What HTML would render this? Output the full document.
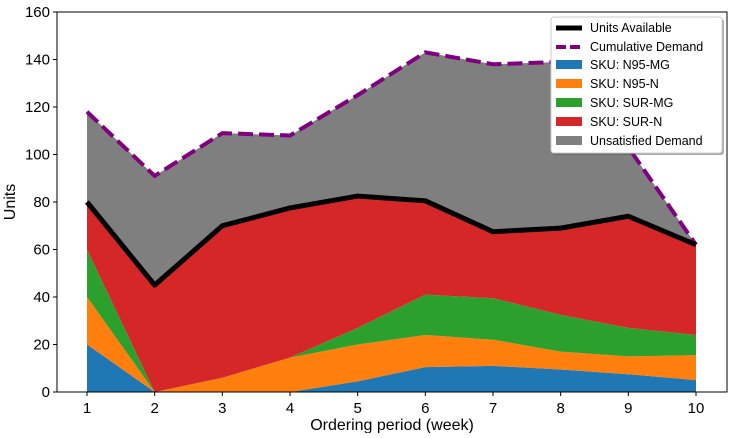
<!DOCTYPE html>
<html><head><meta charset="utf-8"><style>
body{margin:0;background:#fff;font-family:"Liberation Sans","DejaVu Sans",sans-serif}
</style></head><body>
<svg id="chart" width="741" height="433" xmlns="http://www.w3.org/2000/svg"></svg>
<script>
const weeks=[1,2,3,4,5,6,7,8,9,10];
const n95mg=[20,0,0,0,4.5,10.5,11,9.5,7.5,5];
const n95n=[20,0,6,14.5,15.5,13.5,11,7.5,7.5,10.5];
const surmg=[20,0,0,0,7,17,17.5,15.5,12,8.5];
const unitsAvailable=[80,45,70,77.5,82.5,80.5,67.5,69,74,62];
const cumDemand=[118,91,109,108,125,143,138,139,103,62];
const yTicks=[0,20,40,60,80,100,120,140,160];
const NS="http://www.w3.org/2000/svg";
const svg=document.getElementById('chart');
const L=57,R=727,T=12,B=392;
const x=w=>87+(w-1)*(696-87)/9;
const y=v=>B-v*(B-T)/160;
function el(tag,attrs,parent){const e=document.createElementNS(NS,tag);for(const k in attrs)e.setAttribute(k,attrs[k]);(parent||svg).appendChild(e);return e;}
const surn=unitsAvailable.map((u,i)=>u-n95mg[i]-n95n[i]-surmg[i]);
const layers=[[n95mg,'#1f77b4','area-n95-mg'],[n95n,'#ff7f0e','area-n95-n'],[surmg,'#2ca02c','area-sur-mg'],[surn,'#d62728','area-sur-n'],[cumDemand.map((d,i)=>d-unitsAvailable[i]),'#7f7f7f','area-unsatisfied-demand']];
let base=weeks.map(()=>0);
layers.forEach(([vals,col,name])=>{
  const top=base.map((b,i)=>b+vals[i]);
  let d=weeks.map((w,i)=>(i?'L':'M')+x(w)+','+y(top[i])).join('');
  for(let i=weeks.length-1;i>=0;i--)d+='L'+x(weeks[i])+','+y(base[i]);
  const p=el('path',{d:d+'Z',fill:col});
  
  
  base=top;
});
function line(vals,attrs,name){const p=el('polyline',Object.assign({points:weeks.map((w,i)=>x(w)+','+y(vals[i])).join(' '),fill:'none'},attrs));

}
line(cumDemand,{stroke:'#800080','stroke-width':4,'stroke-dasharray':'15,6'},'cumulative-demand-line');
line(unitsAvailable,{stroke:'#000','stroke-width':5,'stroke-linejoin':'round'},'units-available-line');
const frame=el('rect',{x:L,y:T,width:R-L,height:B-T,fill:'none',stroke:'#000','stroke-width':1});


yTicks.forEach(v=>{el('line',{x1:L-4,x2:L,y1:y(v),y2:y(v),stroke:'#000'});
const t=el('text',{x:L-7,y:y(v)+5,'text-anchor':'end','font-size':15});t.textContent=v;

});
weeks.forEach(w=>{el('line',{x1:x(w),x2:x(w),y1:B,y2:B+4,stroke:'#000'});
const t=el('text',{x:x(w),y:B+21,'text-anchor':'middle','font-size':15});t.textContent=w;

});
</script>
<svg style="position:absolute;left:0;top:0" width="741" height="433" xmlns="http://www.w3.org/2000/svg">
<text x="392" y="430" text-anchor="middle" font-size="16" font-family="Liberation Sans">Ordering period (week)</text>
<text transform="translate(15,202) rotate(-90)" text-anchor="middle" font-size="16" font-family="Liberation Sans">Units</text>
<g font-size="12.5" font-family="Liberation Sans">
<rect x="553" y="19" width="171" height="136" rx="3" fill="#555" fill-opacity="0.5"/>
<rect x="551" y="17" width="171" height="136" rx="3" fill="#fff" stroke="#ccc"/>
<line x1="556" x2="582" y1="28" y2="28" stroke="#000" stroke-width="5"/><text x="590" y="32">Units Available</text>
<line x1="556" x2="582" y1="47" y2="47" stroke="#800080" stroke-width="4" stroke-dasharray="10,4"/><text x="590" y="51">Cumulative Demand</text>
<rect x="556" y="60" width="26" height="9" fill="#1f77b4"/><text x="590" y="69">SKU: N95-MG</text>
<rect x="556" y="79" width="26" height="9" fill="#ff7f0e"/><text x="590" y="88">SKU: N95-N</text>
<rect x="556" y="98" width="26" height="9" fill="#2ca02c"/><text x="590" y="107">SKU: SUR-MG</text>
<rect x="556" y="117" width="26" height="9" fill="#d62728"/><text x="590" y="126">SKU: SUR-N</text>
<rect x="556" y="136" width="26" height="9" fill="#7f7f7f"/><text x="590" y="145">Unsatisfied Demand</text>
</g>
</svg>
</body></html>
